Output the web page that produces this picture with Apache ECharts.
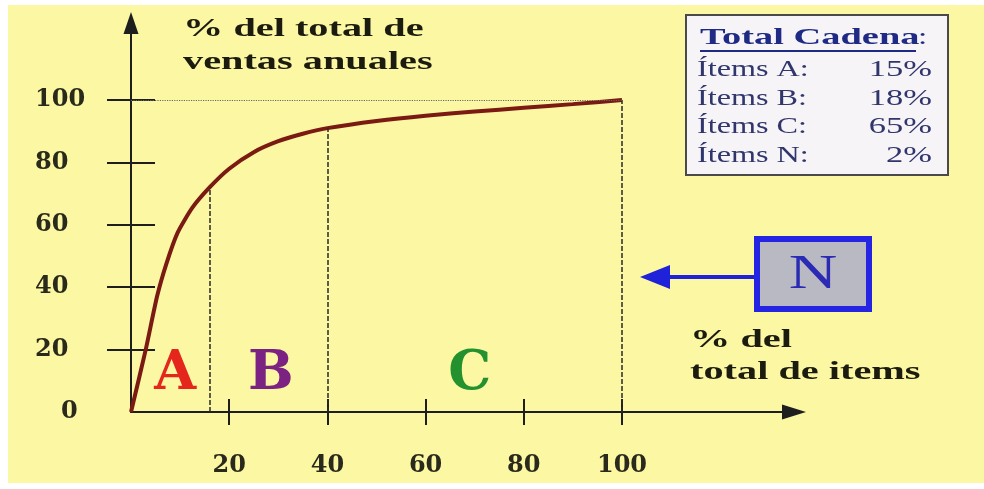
<!DOCTYPE html>
<html>
<head>
<meta charset="utf-8">
<script src="https://cdn.jsdelivr.net/npm/echarts@6/dist/echarts.min.js"></script>
<style>
  html, body { margin: 0; padding: 0; background: #ffffff; }
  #abc-chart { width: 984px; height: 489px; }
</style>
</head>
<body>
<div id="abc-chart"></div>
<script>
// curva ABC: % acumulado de items vs % acumulado de ventas
var itemsPct = [0, 3, 5.3, 7.2, 9.5, 12.5, 16, 20, 25, 30, 35, 40, 50, 60, 70, 80, 90, 100];
var ventasPct = [0, 20, 37, 47.5, 57.5, 65.5, 72, 78, 83.3, 86.8, 89.2, 91, 93.3, 95, 96.3, 97.5, 98.7, 100];

var xTicks = [20, 40, 60, 80, 100];
var yTicks = [0, 20, 40, 60, 80, 100];

// cortes entre zonas
var cortesX = [16, 40, 100];

var zonas = ["A", "B", "C"];
var zonasX = [9, 28.5, 69];
var zonasY = [12, 12, 12];
var zonasColor = ["#e5261c", "#7c2283", "#23912e"];

var totalItems = ["Ítems A:", "Ítems B:", "Ítems C:", "Ítems N:"];
var totalPct = [15, 18, 65, 2];

var chart = echarts.init(document.getElementById("abc-chart"));

var curva = itemsPct.map(function(x, i) { return [x, ventasPct[i]]; });

function valorEn(x) {
  var i = itemsPct.indexOf(x);
  return ventasPct[i];
}

var cortes = cortesX.map(function(x) {
  return [{ coord: [x, 0] }, { coord: [x, valorEn(x)] }];
});
cortes.push([{ coord: [0, 100] }, { coord: [100, 100], lineStyle: { type: "dotted", color: "#666", width: 1.2 } }]);

var fontNum = "DejaVu Serif";
var fontTxt = "Liberation Serif";
var azulTxt = "#30366c";

// textos del cuadro
var cuadro = [];
cuadro.push({
  type: "rect",
  shape: { x: 686, y: 15, width: 262, height: 160 },
  style: { fill: "#f6f4f6", stroke: "#4a4a4a", lineWidth: 2 }
});
cuadro.push({
  type: "text", x: 700, y: 38, scaleX: 1.6,
  style: { text: "Total Cadena", font: "bold 24px " + fontTxt, fill: "#1f2a85", verticalAlign: "middle", align: "left" }
});
cuadro.push({
  type: "text", x: 918, y: 38, scaleX: 1.45,
  style: { text: ":", font: "23px " + fontTxt, fill: "#1f2a85", verticalAlign: "middle" }
});
cuadro.push({
  type: "line", shape: { x1: 700, y1: 51, x2: 916, y2: 51 },
  style: { stroke: "#1f2a85", lineWidth: 2 }
});
for (var i = 0; i < totalItems.length; i++) {
  cuadro.push({
    type: "text", x: 697, y: 70 + i * 28.5, scaleX: 1.4,
    style: { text: totalItems[i], font: "23px " + fontTxt, fill: azulTxt, verticalAlign: "middle", align: "left" }
  });
  cuadro.push({
    type: "text", x: 932, y: 70 + i * 28.5, scaleX: 1.5,
    style: { text: totalPct[i] + "%", font: "23px " + fontTxt, fill: azulTxt, verticalAlign: "middle", align: "right" }
  });
}

var option = {
  backgroundColor: "#ffffff",
  animation: false,
  grid: { left: 131, right: 200, top: 33, bottom: 77 },
  graphic: [
    {
      type: "rect", z: -10, silent: true,
      shape: { x: 8, y: 5, width: 976, height: 478 },
      style: { fill: "#fbf7a2" }
    },
    {
      type: "text", x: 183, y: 29, scaleX: 1.55,
      style: { text: "% del total de", font: "bold 26px " + fontTxt, fill: "#1b1b10", verticalAlign: "middle" }
    },
    {
      type: "text", x: 183, y: 62, scaleX: 1.55,
      style: { text: "ventas anuales", font: "bold 26px " + fontTxt, fill: "#1b1b10", verticalAlign: "middle" }
    },
    {
      type: "text", x: 690, y: 340, scaleX: 1.55,
      style: { text: "% del", font: "bold 26px " + fontTxt, fill: "#1b1b10", verticalAlign: "middle" }
    },
    {
      type: "text", x: 690, y: 372, scaleX: 1.55,
      style: { text: "total de items", font: "bold 26px " + fontTxt, fill: "#1b1b10", verticalAlign: "middle" }
    },
    // caja N con flecha
    {
      type: "line", shape: { x1: 664, y1: 277, x2: 757, y2: 277 },
      style: { stroke: "#1f22d8", lineWidth: 4 }
    },
    {
      type: "polygon", shape: { points: [[640, 277], [670, 265], [670, 289]] },
      style: { fill: "#1f22d8" }
    },
    {
      type: "rect", shape: { x: 757, y: 239, width: 112, height: 70 },
      style: { fill: "#b9b9c3", stroke: "#2424e2", lineWidth: 6 }
    },
    {
      type: "text", x: 813, y: 275, scaleX: 1.4,
      style: { text: "N", font: "48px " + fontTxt, fill: "#2a2ab5", align: "center", verticalAlign: "middle" }
    }
  ].concat(cuadro),
  xAxis: [
    {
      type: "value", min: 0, max: 133, position: "bottom",
      axisLine: {
        show: true, onZero: false,
        lineStyle: { color: "#1e1e1e", width: 2 },
        symbol: ["none", "triangle"], symbolSize: [15, 24], symbolOffset: [0, 10]
      },
      axisTick: { show: true, length: 13, inside: false, customValues: xTicks, lineStyle: { color: "#1e1e1e", width: 2 } },
      axisLabel: {
        customValues: xTicks, margin: 42,
        fontFamily: fontNum, fontWeight: "bold", fontSize: 24, color: "#2a2a1c"
      },
      splitLine: { show: false }
    },
    {
      type: "value", min: 0, max: 133, position: "bottom",
      axisLine: { show: false },
      axisTick: { show: true, length: 13, inside: true, customValues: xTicks, lineStyle: { color: "#1e1e1e", width: 2 } },
      axisLabel: { show: false },
      splitLine: { show: false }
    }
  ],
  yAxis: [
    {
      type: "value", min: 0, max: 121.5, position: "left",
      axisLine: {
        show: true, onZero: false,
        lineStyle: { color: "#1e1e1e", width: 2 },
        symbol: ["none", "triangle"], symbolSize: [15, 22], symbolOffset: [0, 10]
      },
      axisTick: { show: true, length: 24, inside: false, customValues: yTicks.slice(1), lineStyle: { color: "#1e1e1e", width: 2 } },
      axisLabel: {
        customValues: yTicks, margin: 96, align: "left",
        fontFamily: fontNum, fontWeight: "bold", fontSize: 24, color: "#2a2a1c",
        formatter: function(v) { return v === 0 ? "{z|0}" : String(v); },
        rich: { z: { padding: [0, 0, 0, 26], fontFamily: fontNum, fontWeight: "bold", fontSize: 24, color: "#2a2a1c" } }
      },
      splitLine: { show: false }
    },
    {
      type: "value", min: 0, max: 121.5, position: "left",
      axisLine: { show: false },
      axisTick: { show: true, length: 24, inside: true, customValues: yTicks.slice(1), lineStyle: { color: "#1e1e1e", width: 2 } },
      axisLabel: { show: false },
      splitLine: { show: false }
    }
  ],
  series: [
    {
      name: "Curva ABC",
      type: "line",
      data: curva,
      smooth: 0.2,
      showSymbol: false,
      lineStyle: { color: "#7a1a12", width: 4 },
      markLine: {
        silent: true,
        symbol: ["none", "none"],
        label: { show: false },
        lineStyle: { color: "#2a2a2a", width: 1.5, type: [5, 2] },
        data: cortes
      },
      z: 3
    },
    {
      name: "Zonas",
      type: "scatter",
      symbolSize: 0,
      itemStyle: { opacity: 1 },
      data: zonas.map(function(z, i) {
        return {
          name: z,
          value: [zonasX[i], zonasY[i]],
          label: {
            show: true, position: "inside", formatter: z, opacity: 1,
            fontFamily: fontNum, fontWeight: "bold", fontSize: 54, color: zonasColor[i]
          }
        };
      })
    }
  ]
};

chart.setOption(option);
window.addEventListener("resize", function() {
  chart.resize();
});
</script>
</body>
</html>
